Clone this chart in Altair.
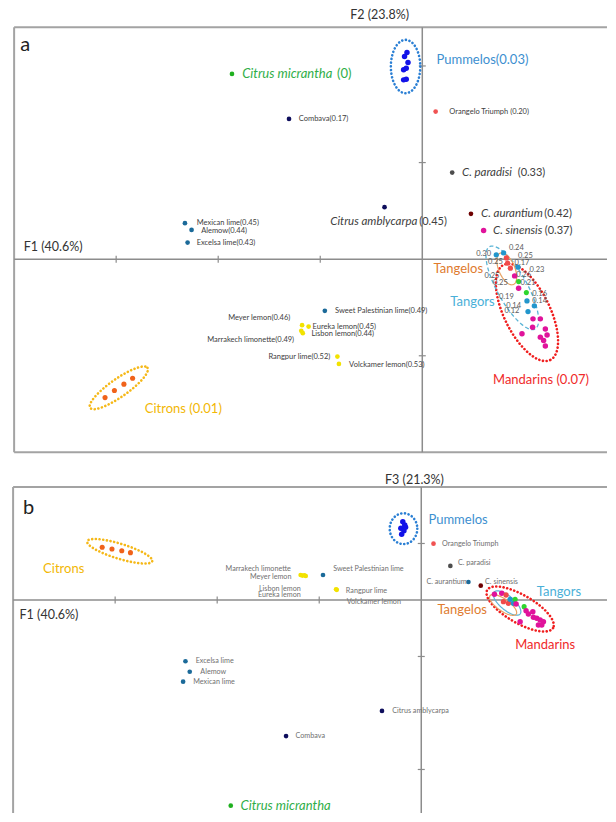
import altair as alt
import pandas as pd
import numpy as np

FONT = "Lato"

# ---------------- Panel a : F1 (40.6%) x F2 (23.8%) ----------------
A_XDOM = [-4.06, 1.82]
A_YDOM = [-2.11, 2.60]
A_KX, A_KY = 102.0, 96.6          # px per unit (for ellipse outlines only)

a_pt_group = ["micrantha",
              "pummelo", "pummelo", "pummelo", "pummelo", "pummelo", "pummelo", "pummelo",
              "papeda", "orangelo", "paradisi", "papeda", "aurantium", "mandarin",
              "lime", "lime", "lime", "lime",
              "lemon", "lemon", "lemon", "lemon", "lemon", "lemon",
              "citron", "citron", "citron", "citron",
              "mandarin", "mandarin", "mandarin", "mandarin", "mandarin", "mandarin",
              "mandarin", "mandarin", "mandarin", "mandarin", "mandarin",
              "tangor", "tangor", "tangor", "tangor", "tangor", "tangor",
              "tangelo", "tangelo", "tangelo",
              "hybrid", "hybrid"]
a_pt_f1 = [-1.865,
           -0.150, -0.174, -0.140, -0.157, -0.183, -0.157, -0.183,
           -1.306, 0.131, 0.293, -0.370, 0.477, 0.601,
           -2.326, -2.261, -2.300, -0.955,
           -1.178, -1.114, -1.171, -1.186, -0.832, -0.817,
           -3.109, -3.017, -2.924, -2.839,
           0.905, 0.944, 1.085, 1.157, 1.081, 0.977,
           1.206, 1.223, 1.157, 1.189, 1.206,
           0.725, 0.797, 0.938, 1.026, 1.098, 1.036,
           0.836, 0.863, 0.824,
           0.944, 1.020]
a_pt_f2 = [1.918,
           2.139, 2.097, 2.035, 1.977, 1.960, 1.863, 1.856,
           1.452, 1.528, 0.896, 0.538, 0.469, 0.296,
           0.373, 0.303, 0.172, -0.535,
           -0.683, -0.698, -0.766, -0.742, -1.008, -1.084,
           -1.433, -1.360, -1.294, -1.232,
           -0.173, -0.300, -0.618, -0.618, -0.704, -0.773,
           -0.722, -0.784, -0.807, -0.843, -0.898,
           0.045, 0.065, -0.083, -0.432, -0.483, -0.542,
           -0.041, -0.093, 0.013,
           -0.232, -0.346]

# labels: text, F1, F2, kind
a_labels = [
    ("Citrus micrantha", -1.765, 1.918, "big_it_green"), ("(0)", -0.835, 1.918, "big_green"),
    ("Pummelos(0.03)", 0.139, 2.063, "pummelo_lab"),
    ("Citrons (0.01)", -2.720, -1.553, "citron_lab"),
    ("Mandarins (0.07)", 0.693, -1.249, "mandarin_lab"),
    ("Tangelos", 0.111, -0.104, "tangelo_lab"),
    ("Tangors", 0.275, -0.439, "tangor_lab"),
    ("C. paradisi", 0.389, 0.896, "mid_it"), ("(0.33)", 0.935, 0.896, "mid"),
    ("Citrus amblycarpa", -0.902, 0.389, "mid_it"), ("(0.45)", -0.030, 0.389, "mid"),
    ("C. aurantium", 0.575, 0.469, "mid_it"), ("(0.42)", 1.195, 0.469, "mid"),
    ("C. sinensis", 0.693, 0.296, "mid_it"), ("(0.37)", 1.200, 0.296, "mid"),
    ("Combava(0.17)", -1.210, 1.452, "small"),
    ("Orangelo Triumph (0.20)", 0.265, 1.528, "small"),
    ("Mexican lime(0.45)", -2.211, 0.373, "small"),
    ("Alemow(0.44)", -2.167, 0.293, "small"),
    ("Excelsa lime(0.43)", -2.211, 0.172, "small"),
    ("Sweet Palestinian lime(0.49)", -0.855, -0.535, "small"),
    ("Meyer lemon(0.46)", -1.294, -0.611, "small_r"),
    ("Eureka lemon(0.45)", -1.075, -0.698, "small"),
    ("Lisbon lemon(0.44)", -1.086, -0.770, "small"),
    ("Marrakech limonette(0.49)", -1.256, -0.839, "small_r"),
    ("Rangpur lime(0.52)", -0.902, -1.008, "small_r"),
    ("Volckamer lemon(0.53)", -0.717, -1.091, "small"),
    ("F2 (23.8%)", -0.706, 2.529, "axis"),
    ("F1 (40.6%)", -3.906, 0.130, "axis"),
    ("a", -3.941, 2.218, "panel"),
]
a_num_text = ["0.24", "0.30", "0.25", "0.25", "0.17", "0.23", "0.25", "0.26",
              "0.25", "0.21", "0.16", "0.19", "0.14", "0.14", "0.12"]
a_num_f1 = [0.922, 0.601, 1.010, 0.716, 0.977, 1.124, 0.683, 0.993,
            0.765, 1.036, 1.150, 0.824, 1.150, 0.895, 0.879]
a_num_f2 = [0.117, 0.052, 0.034, -0.031, -0.035, -0.111, -0.173, -0.163,
            -0.242, -0.242, -0.359, -0.393, -0.435, -0.480, -0.532]

# ellipses: style, colour, centre F1, centre F2, semi-axis a, semi-axis b (px), angle (deg)
a_ellipses = [
    ("dotted", "#2a7fd4", -0.164, 1.994, 14.7, 26.7, 0),
    ("dotted", "#f5b818", -2.974, -1.332, 35, 9, -35),
    ("dotted", "#f01e1e", 1.026, -0.551, 53, 23, 64),
    ("dashed", "#5ab4d6", 0.882, -0.297, 47, 15, 61),
    ("solid", "#e8a060", 0.828, -0.100, 17, 8, 67),
]
a_frame = {"left": -4.0, "right": 1.81, "top": 2.4, "bottom": -2.0}
a_xticks = [-3, -2, -1]
a_yticks = [2, 1, -1]

# ---------------- Panel b : F1 (40.6%) x F3 (21.3%) ----------------
B_XDOM = [-4.05, 1.83]
B_YDOM = [-1.894, 1.168]
B_KX, B_KY = 102.0, 113.0

b_pt_group = ["pummelo"] * 6 + ["orangelo", "paradisi", "lime", "aurantium"] + \
             ["citron"] * 4 + ["lemon", "lemon", "lemon", "lemon", "lime", "lemon", "lemon"] + \
             ["lime", "lime", "lime", "papeda", "papeda", "micrantha"] + \
             ["mandarin", "mandarin", "tangelo", "tangelo", "tangelo", "tangor", "tangor",
              "hybrid", "hybrid", "mandarin", "mandarin", "mandarin", "mandarin", "mandarin",
              "mandarin", "mandarin", "mandarin", "mandarin", "mandarin", "mandarin"]
b_pt_f1 = [-0.181, -0.162, -0.200, -0.170, -0.192, -0.154,
           0.120, 0.285, 0.462, 0.583,
           -3.127, -3.031, -2.935, -2.850,
           -1.182, -1.132, -1.165, -1.145, -0.963, -0.835, -0.828,
           -2.311, -2.269, -2.334, -0.385, -1.325, -1.867,
           0.717, 0.789, 0.831, 0.805, 0.854, 0.871, 0.903,
           0.920, 1.008, 0.929, 1.027, 1.093, 1.050, 1.099,
           1.132, 1.165, 1.197, 1.148, 1.181, 0.969]
b_pt_f3 = [0.693, 0.664, 0.635, 0.613, 0.581, 0.643,
           0.498, 0.301, 0.159, 0.127,
           0.466, 0.451, 0.436, 0.419,
           0.221, 0.212, 0.216, 0.219, 0.221, 0.095, 0.090,
           -0.542, -0.635, -0.723, -0.982, -1.204, -1.820,
           0.050, 0.059, 0.044, -0.015, -0.029, 0.006, -0.029,
           0.006, -0.059, -0.035, -0.095, -0.104, -0.124, -0.153,
           -0.162, -0.177, -0.192, -0.221, -0.221, -0.192]

b_labels = [
    ("Citrus micrantha", -1.771, -1.820, "big_it_green"),
    ("Pummelos", 0.070, 0.708, "pummelo_lab"),
    ("Citrons", -3.706, 0.272, "citron_lab"),
    ("Tangors", 1.132, 0.073, "tangor_lab"),
    ("Tangelos", 0.158, -0.088, "tangelo_lab"),
    ("Mandarins", 0.920, -0.398, "mandarin_lab"),
    ("Orangelo Triumph", 0.204, 0.498, "tiny"),
    ("C. paradisi", 0.359, 0.330, "tiny"),
    ("C. aurantium", 0.446, 0.157, "tiny_r"),
    ("C. sinensis", 0.625, 0.157, "tiny"),
    ("Marrakech limonette", -1.278, 0.275, "tiny_r"),
    ("Meyer lemon", -1.272, 0.207, "tiny_r"),
    ("Sweet Palestinian lime", -0.863, 0.272, "tiny"),
    ("Lisbon lemon", -1.180, 0.098, "tiny_r"),
    ("Eureka lemon", -1.180, 0.044, "tiny_r"),
    ("Rangpur lime", -0.739, 0.082, "tiny"),
    ("Volckamer lemon", -0.731, -0.020, "tiny"),
    ("Excelsa lime", -2.211, -0.542, "tiny"),
    ("Alemow", -2.165, -0.635, "tiny"),
    ("Mexican lime", -2.234, -0.723, "tiny"),
    ("Citrus amblycarpa", -0.285, -0.982, "tiny"),
    ("Combava", -1.232, -1.204, "tiny"),
    ("F3 (21.3%)", -0.355, 1.062, "axis"),
    ("F1 (40.6%)", -3.937, -0.133, "axis"),
    ("b", -3.904, 0.812, "panel"),
]
b_ellipses = [
    ("dotted", "#2a7fd4", -0.174, 0.631, 13.8, 15.4, 0),
    ("dotted", "#f5b818", -2.955, 0.431, 34, 7.5, 17),
    ("dotted", "#f01e1e", 0.969, -0.080, 38, 14, 30),
    ("solid", "#5ab4d6", 0.841, -0.027, 17, 7, 40),
    ("solid", "#e8a060", 0.802, -0.044, 16, 6, 35),
]
b_frame = {"left": -4.0, "right": 1.82, "top": 1.0, "bottom": -1.885}
b_xticks = [-3, -2, -1]
b_yticks = [0.5, -0.5, -1.5]

# ---------------- styles ----------------
POINT_STYLE = {
    "micrantha": ("#1fb01f", 22), "pummelo": ("#1212e8", 30), "papeda": ("#0e0e5c", 22),
    "lime": ("#1b6a99", 22), "lemon": ("#f2e200", 22), "citron": ("#f0621a", 26),
    "orangelo": ("#f05252", 22), "paradisi": ("#4d4d4d", 22), "aurantium": ("#6e0000", 22),
    "mandarin": ("#e0139b", 30), "tangor": ("#2296cc", 28), "tangelo": ("#f04a4a", 28),
    "hybrid": ("#2ed62e", 26),
}
TEXT_STYLE = {  # colour, size, italic, align
    "big_it_green": ("#2fae48", 13, True, "left"), "big_green": ("#2fae48", 13, False, "left"),
    "pummelo_lab": ("#3d8fd0", 13, False, "left"), "citron_lab": ("#f2b705", 13, False, "left"),
    "mandarin_lab": ("#f02a2a", 13, False, "left"), "tangelo_lab": ("#e07b2e", 13, False, "left"),
    "tangor_lab": ("#4ab0d8", 13, False, "left"),
    "mid_it": ("#404040", 11.5, True, "left"), "mid": ("#404040", 11, False, "left"),
    "small": ("#404040", 7.5, False, "left"), "small_r": ("#404040", 7.5, False, "right"),
    "tiny": ("#707070", 7.2, False, "left"), "tiny_r": ("#707070", 7.2, False, "right"),
    "axis": ("#333333", 12.5, False, "left"), "panel": ("#222222", 20, False, "left"),
}


def ellipse_df(specs, kx, ky):
    rows = []
    t = np.linspace(0, 2 * np.pi, 121)
    for k, (style, col, cx, cy, a, b, ang) in enumerate(specs):
        th = np.radians(ang)
        dx = a * np.cos(t) * np.cos(th) - b * np.sin(t) * np.sin(th)
        dy = a * np.cos(t) * np.sin(th) + b * np.sin(t) * np.cos(th)
        for i in range(len(t)):
            rows.append({"eid": k, "i": i, "style": style, "color": col,
                         "x": cx + dx[i] / kx, "y": cy - dy[i] / ky})
    return pd.DataFrame(rows)


def panel(xdom, ydom, kx, ky, groups, f1, f2, labels, ellipses, frame, xticks, yticks,
          nums=None, height=400, closed_bottom=True):
    X = lambda f="x": alt.X(f"{f}:Q", scale=alt.Scale(domain=xdom, nice=False, zero=False), axis=None)
    Y = lambda f="y": alt.Y(f"{f}:Q", scale=alt.Scale(domain=ydom, nice=False, zero=False), axis=None)

    L, R, T, B = frame["left"], frame["right"], frame["top"], frame["bottom"]
    fr = [{"x": L, "x2": R, "y": T, "y2": T}, {"x": L, "x2": L, "y": B, "y2": T}]
    if closed_bottom:
        fr.append({"x": L, "x2": R, "y": B, "y2": B})
    frame_layer = alt.Chart(pd.DataFrame(fr)).mark_rule(color="#a3a3a3", strokeWidth=2).encode(
        x=X(), x2="x2:Q", y=Y(), y2="y2:Q")
    ax = pd.DataFrame([{"x": L, "x2": R, "y": 0, "y2": 0}, {"x": 0, "x2": 0, "y": B, "y2": T}])
    axis_layer = alt.Chart(ax).mark_rule(color="#8c8c8c", strokeWidth=1.5).encode(
        x=X(), x2="x2:Q", y=Y(), y2="y2:Q")
    hx, hy = 3.5 / kx, 3.5 / ky
    tk = [{"x": v, "x2": v, "y": -hy, "y2": hy} for v in xticks] + \
         [{"x": -hx, "x2": hx, "y": v, "y2": v} for v in yticks]
    tick_layer = alt.Chart(pd.DataFrame(tk)).mark_rule(color="#8c8c8c", strokeWidth=1.2).encode(
        x=X(), x2="x2:Q", y=Y(), y2="y2:Q")

    edf = ellipse_df(ellipses, kx, ky)
    dash = {"dotted": dict(strokeWidth=2.6, strokeDash=[0.1, 3.6], strokeCap="round"),
            "dashed": dict(strokeWidth=1.3, strokeDash=[4, 2.5]),
            "solid": dict(strokeWidth=1.2)}
    ell_layers = []
    for st, kw in dash.items():
        sub = edf[edf["style"] == st]
        if len(sub) == 0:
            continue
        ell_layers.append(alt.Chart(sub).mark_line(interpolate="linear", **kw).encode(
            x=X(), y=Y(), detail="eid:N", order="i:Q", color=alt.Color("color:N", scale=None)))

    pdf = pd.DataFrame({"g": groups, "x": f1, "y": f2})
    pdf["color"] = pdf["g"].map(lambda g: POINT_STYLE[g][0])
    pdf["size"] = pdf["g"].map(lambda g: POINT_STYLE[g][1])
    point_layer = alt.Chart(pdf).mark_circle(opacity=1).encode(
        x=X(), y=Y(), color=alt.Color("color:N", scale=None), size=alt.Size("size:Q", scale=None))

    ldf = pd.DataFrame(labels, columns=["text", "x", "y", "kind"])
    ldf["color"] = ldf["kind"].map(lambda k: TEXT_STYLE[k][0])
    ldf["fs"] = ldf["kind"].map(lambda k: TEXT_STYLE[k][1])
    ldf["it"] = ldf["kind"].map(lambda k: TEXT_STYLE[k][2])
    ldf["al"] = ldf["kind"].map(lambda k: TEXT_STYLE[k][3])
    text_layers = []
    for it in [False, True]:
        for al in ["left", "right"]:
            sub = ldf[(ldf["it"] == it) & (ldf["al"] == al)]
            if len(sub) == 0:
                continue
            text_layers.append(alt.Chart(sub).mark_text(
                align=al, baseline="middle", font=FONT,
                fontStyle="italic" if it else "normal").encode(
                x=X(), y=Y(), text="text:N", color=alt.Color("color:N", scale=None),
                size=alt.Size("fs:Q", scale=None)))
    if nums is not None:
        ndf = pd.DataFrame({"text": nums[0], "x": nums[1], "y": nums[2]})
        text_layers.append(alt.Chart(ndf).mark_text(
            align="center", baseline="middle", font=FONT, fontSize=7.5, color="#5a5a5a").encode(
            x=X(), y=Y(), text="text:N"))

    layers = [frame_layer, axis_layer, tick_layer] + ell_layers + [point_layer] + text_layers
    return alt.layer(*layers).properties(width=600, height=height)


pa = panel(A_XDOM, A_YDOM, A_KX, A_KY, a_pt_group, a_pt_f1, a_pt_f2, a_labels, a_ellipses,
           a_frame, a_xticks, a_yticks, nums=(a_num_text, a_num_f1, a_num_f2), height=455)
pb = panel(B_XDOM, B_YDOM, B_KX, B_KY, b_pt_group, b_pt_f1, b_pt_f3, b_labels, b_ellipses,
           b_frame, b_xticks, b_yticks, height=346, closed_bottom=False)

chart = alt.vconcat(pa, pb, spacing=5).properties(padding=0, background="white").configure_view(stroke=None)
chart.save("out.html", embed_options={"renderer": "svg", "actions": False})
